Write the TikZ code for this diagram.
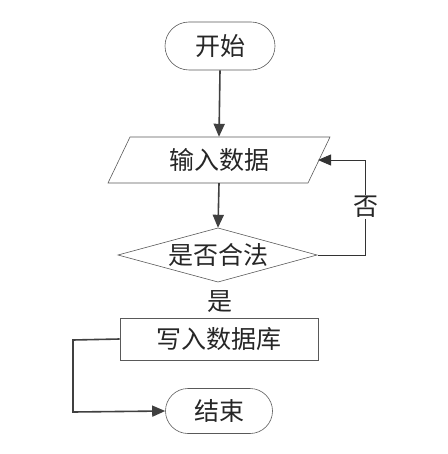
\documentclass[tikz,border=0pt]{standalone}
\usepackage{fontspec}
\newfontfamily\cjk{Noto Sans CJK SC}
\usetikzlibrary{shapes.geometric,shapes.misc,arrows.meta}
\begin{document}
\begin{tikzpicture}[x=1pt,y=-1pt,
  shapeline/.style={draw=black!65,line width=0.6pt},
  term/.style={shapeline,rounded rectangle,minimum width=110pt,minimum height=48pt,inner sep=0pt},
  txt/.style={font=\cjk\fontsize{25}{25}\selectfont,text=black!85},
  flow/.style={draw=black!75,line width=1.6pt,-{Triangle[length=13pt,width=11pt]}},
  thinflow/.style={draw=black!80,line width=0.8pt,-{Triangle[length=13pt,width=11pt]}}]
\useasboundingbox (0,0) rectangle (447,454);
\node[term,txt] (start) at (220,46) {开始};
\draw[shapeline] (130,137) -- (330,137) -- (308,183) -- (108,183) -- cycle;
\node[txt,minimum width=200pt,minimum height=46pt] (input) at (219,160) {输入数据};
\draw[shapeline] (118,255) -- (218,228) -- (317,255) -- (218,282) -- cycle;
\node[txt,minimum width=199pt,minimum height=54pt] (check) at (218,255) {是否合法};
\node[shapeline,txt,minimum width=198pt,minimum height=42pt,inner sep=0pt] (write) at (219,339) {写入数据库};
\node[term,txt,minimum width=107pt,minimum height=45pt] (end) at (219,411) {结束};
\node[txt] (yes) at (220,302) {是};
\coordinate (c1) at (365,255);
\coordinate (c2) at (365,160);
\coordinate (d1) at (73,340);
\coordinate (d2) at (73,412);
\draw[flow] (start.south) -- (input.north);
\draw[flow] (input.south) -- (check.north);
\draw[thinflow] (check.east) -- (c1) -- (c2) -- (318,160);
\node[txt,fill=white,inner sep=1pt] (no) at (366,207) {否};
\draw[flow] (write.west) -- (d1) -- (d2) -- (end.west);
\end{tikzpicture}
\end{document}
